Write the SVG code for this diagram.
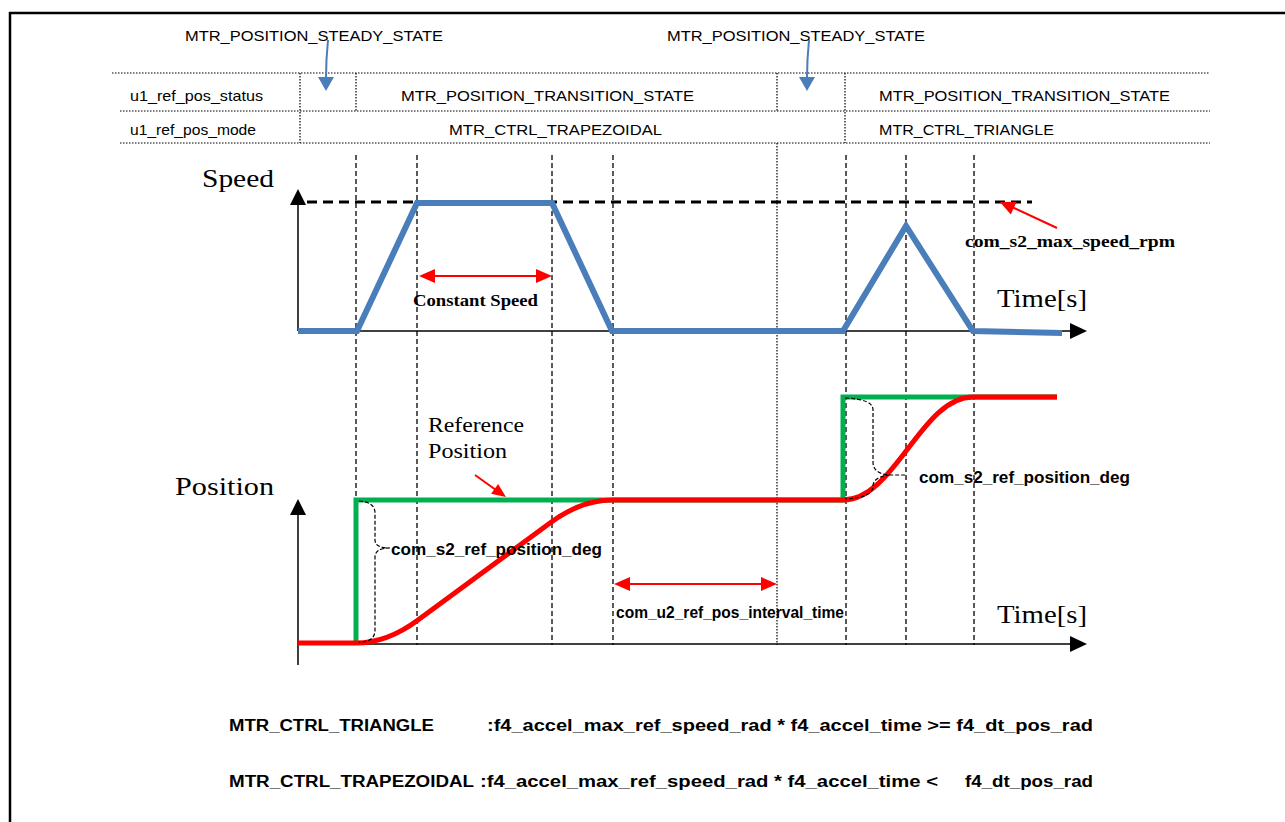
<svg xmlns="http://www.w3.org/2000/svg" width="1285" height="822" viewBox="0 0 1285 822">
<style>
.sans{font-family:"Liberation Sans",Arial,sans-serif;fill:#000}
.tbl{font-size:15px}
.bsans{font-family:"Liberation Sans",Arial,sans-serif;font-weight:bold;fill:#000;font-size:16px}
.serif{font-family:"Liberation Serif","Times New Roman",serif;fill:#000}
.bserif{font-family:"Liberation Serif","Times New Roman",serif;font-weight:bold;fill:#000;font-size:16px}
.dot{stroke:#000;stroke-width:1.2;stroke-dasharray:1.5 1.5;fill:none}
.dash{stroke:#000;stroke-width:1.3;stroke-dasharray:5 3;fill:none}
.axis{stroke:#000;stroke-width:1.5;fill:none}
.brace{stroke:#000;stroke-width:1.2;stroke-dasharray:4 2;fill:none}
.red{stroke:#ff0000;stroke-width:2;fill:none}
</style>
<rect width="1285" height="822" fill="#fff"/>
<g id="frame">
<line x1="9" y1="13" x2="1285" y2="13" stroke="#000" stroke-width="2.5"/>
<line x1="10" y1="12" x2="10" y2="822" stroke="#000" stroke-width="2.5"/>
</g>
<g id="table">
<line class="dot" x1="112" y1="73" x2="1210" y2="73"/>
<line class="dot" x1="120" y1="111" x2="1210" y2="111"/>
<line class="dot" x1="120" y1="143" x2="1210" y2="143"/>
<line class="dot" x1="300" y1="73" x2="300" y2="143"/>
<line class="dot" x1="356" y1="73" x2="356" y2="111"/>
<line class="dot" x1="777" y1="73" x2="777" y2="111"/>
<line class="dot" x1="845" y1="73" x2="845" y2="143"/>
<text class="sans tbl" x="130" y="101" textLength="133" lengthAdjust="spacingAndGlyphs">u1_ref_pos_status</text>
<text class="sans tbl" x="130" y="135" textLength="126" lengthAdjust="spacingAndGlyphs">u1_ref_pos_mode</text>
<text class="sans tbl" x="401" y="101" textLength="293" lengthAdjust="spacingAndGlyphs">MTR_POSITION_TRANSITION_STATE</text>
<text class="sans tbl" x="879" y="101" textLength="291" lengthAdjust="spacingAndGlyphs">MTR_POSITION_TRANSITION_STATE</text>
<text class="sans tbl" x="449" y="135" textLength="213" lengthAdjust="spacingAndGlyphs">MTR_CTRL_TRAPEZOIDAL</text>
<text class="sans tbl" x="879" y="135" textLength="175" lengthAdjust="spacingAndGlyphs">MTR_CTRL_TRIANGLE</text>
</g>
<g id="steady1">
<text class="sans tbl" x="185" y="41" textLength="258" lengthAdjust="spacingAndGlyphs">MTR_POSITION_STEADY_STATE</text>
<path d="M328,40 Q326,60 326,78" stroke="#4a7ebb" stroke-width="2" fill="none"/>
<polygon points="318,77 334,77 326,91" fill="#4a7ebb"/>
</g>
<g id="steady2">
<text class="sans tbl" x="667" y="41" textLength="258" lengthAdjust="spacingAndGlyphs">MTR_POSITION_STEADY_STATE</text>
<path d="M809,40 Q807,60 807,78" stroke="#4a7ebb" stroke-width="2" fill="none"/>
<polygon points="799,77 815,77 807,91" fill="#4a7ebb"/>
</g>
<g id="timelines">
<line class="dash" x1="356" y1="155" x2="356" y2="645"/>
<line class="dash" x1="417" y1="155" x2="417" y2="645"/>
<line class="dash" x1="552" y1="155" x2="552" y2="645"/>
<line class="dash" x1="613" y1="155" x2="613" y2="645"/>
<line class="dot" x1="777" y1="143" x2="777" y2="645"/>
<line class="dash" x1="846" y1="155" x2="846" y2="645"/>
<line class="dash" x1="906" y1="155" x2="906" y2="645"/>
<line class="dash" x1="974" y1="155" x2="974" y2="645"/>
</g>
<g id="speed-graph">
<line class="axis" x1="298" y1="203" x2="298" y2="331"/>
<polygon points="298,189 290,205 306,205" fill="#000"/>
<line class="axis" x1="298" y1="331" x2="1072" y2="331"/>
<polygon points="1087,331 1070,323 1070,339" fill="#000"/>
<line x1="307" y1="202" x2="1032" y2="202" stroke="#000" stroke-width="3" stroke-dasharray="10 6"/>
<polyline points="298,331 357,331 417,203 552,203 612,331 843,331 906,226 973,331 1062,333" fill="none" stroke="#4a7ebb" stroke-width="6"/>
<text class="serif" x="202" y="187" font-size="25" textLength="72" lengthAdjust="spacingAndGlyphs">Speed</text>
<text class="serif" x="997" y="307" font-size="26" textLength="90" lengthAdjust="spacingAndGlyphs">Time[s]</text>
<line class="red" x1="432" y1="276" x2="539" y2="276"/>
<polygon points="419,276 435,269 435,283" fill="#ff0000"/>
<polygon points="552,276 536,269 536,283" fill="#ff0000"/>
<text class="bserif" x="413" y="306" textLength="125" lengthAdjust="spacingAndGlyphs">Constant Speed</text>
<line class="red" x1="1057" y1="228" x2="1012" y2="207"/>
<polygon points="1000,202 1016.6,201.8 1010.8,214.6" fill="#ff0000"/>
<text class="bserif" x="965" y="247" textLength="210" lengthAdjust="spacingAndGlyphs">com_s2_max_speed_rpm</text>
</g>
<g id="position-graph">
<line class="axis" x1="298" y1="512" x2="298" y2="665"/>
<polygon points="298,499 290,515 306,515" fill="#000"/>
<line class="axis" x1="298" y1="644" x2="1072" y2="644"/>
<polygon points="1087,644 1070,636 1070,652" fill="#000"/>
<polyline points="356,644 356,500 843,500 843,397 1057,397" fill="none" stroke="#00b050" stroke-width="5"/>
<path d="M298,643 L356,643 Q387,643 418,620 L550,523 Q581,500 612,500 L843,500 C895,500 921,397 973,397 L1057,397" fill="none" stroke="#ff0000" stroke-width="5"/>
<path class="brace" d="M359,501 Q375,502 375,513 L375,540 Q375,548 390,548 M390,548 Q375,548 375,557 L375,630 Q375,642 359,642"/>
<path class="brace" d="M845,398 Q873,399 873,410 L873,462 Q873,474 890,475 L905,475 M890,475 Q873,477 873,486 Q873,498 845,499"/>
<text class="serif" x="175" y="495" font-size="25" textLength="99" lengthAdjust="spacingAndGlyphs">Position</text>
<text class="serif" x="997" y="623" font-size="26" textLength="90" lengthAdjust="spacingAndGlyphs">Time[s]</text>
<text class="serif" x="428" y="432" font-size="20" textLength="96" lengthAdjust="spacingAndGlyphs">Reference</text>
<text class="serif" x="428" y="458" font-size="20" textLength="79" lengthAdjust="spacingAndGlyphs">Position</text>
<line class="red" x1="475" y1="475" x2="496" y2="490"/>
<polygon points="506,497 491.1,493.8 498.1,484" fill="#ff0000"/>
<text class="bsans" x="391" y="555" textLength="211" lengthAdjust="spacingAndGlyphs">com_s2_ref_position_deg</text>
<text class="bsans" x="919" y="483" textLength="211" lengthAdjust="spacingAndGlyphs">com_s2_ref_position_deg</text>
<line class="red" x1="626" y1="584" x2="765" y2="584"/>
<polygon points="614,584 630,577 630,591" fill="#ff0000"/>
<polygon points="777,584 761,577 761,591" fill="#ff0000"/>
<text class="bsans" x="616" y="618" font-size="15" textLength="228" lengthAdjust="spacingAndGlyphs">com_u2_ref_pos_interval_time</text>
</g>
<g id="conditions">
<text class="bsans" x="229" y="731" font-size="17" textLength="205" lengthAdjust="spacingAndGlyphs">MTR_CTRL_TRIANGLE</text>
<text class="bsans" x="487" y="731" font-size="17" textLength="606" lengthAdjust="spacingAndGlyphs">:f4_accel_max_ref_speed_rad * f4_accel_time &gt;= f4_dt_pos_rad</text>
<text class="bsans" x="229" y="787" font-size="17" textLength="245" lengthAdjust="spacingAndGlyphs">MTR_CTRL_TRAPEZOIDAL</text>
<text class="bsans" x="480" y="787" font-size="17" textLength="458" lengthAdjust="spacingAndGlyphs">:f4_accel_max_ref_speed_rad * f4_accel_time &lt;</text>
<text class="bsans" x="965" y="787" font-size="17" textLength="128" lengthAdjust="spacingAndGlyphs">f4_dt_pos_rad</text>
</g>
</svg>
